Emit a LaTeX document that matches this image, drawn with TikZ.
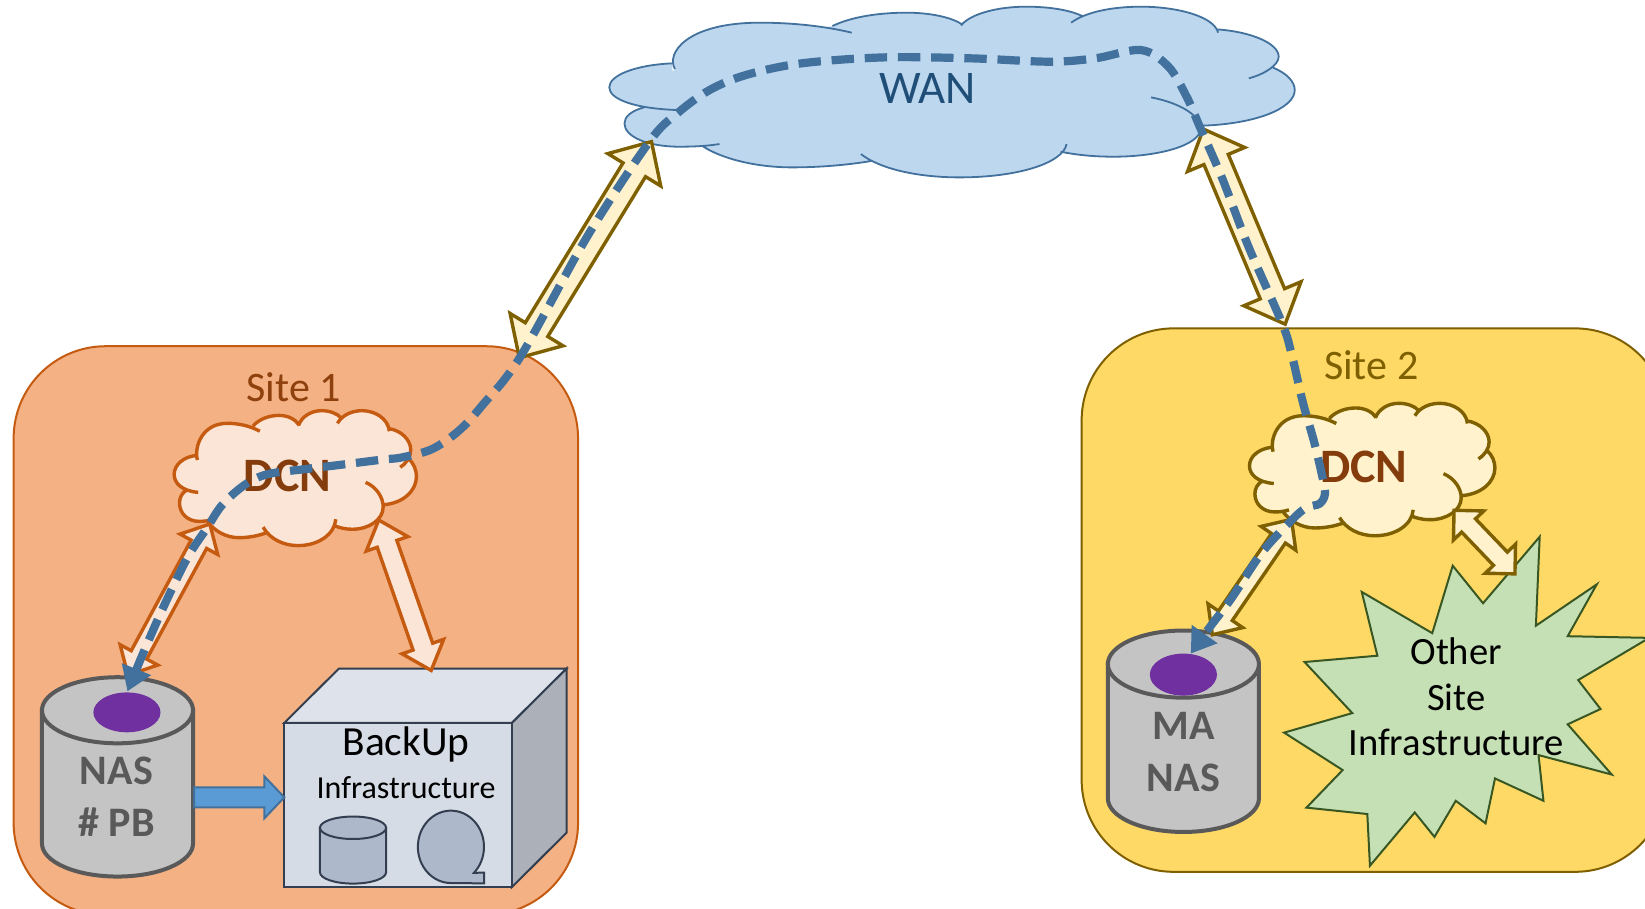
\documentclass[tikz,border=0pt]{standalone}
\usepackage{fontspec}
\setmainfont{Carlito}
\usetikzlibrary{calc,arrows.meta}

\definecolor{orangeline}{HTML}{C55A11}
\definecolor{orangefill}{HTML}{F4B183}
\definecolor{orangepale}{HTML}{FBE5D6}
\definecolor{orangetext}{HTML}{843C0C}
\definecolor{goldline}{HTML}{7F6000}
\definecolor{goldfill}{HTML}{FFD966}
\definecolor{goldpale}{HTML}{FFF2CC}
\definecolor{wanfill}{HTML}{BDD7EE}
\definecolor{wanline}{HTML}{41719C}
\definecolor{wantext}{HTML}{1F4E79}
\definecolor{cangrey}{HTML}{C4C4C4}
\definecolor{candark}{HTML}{595959}
\definecolor{slotviolet}{HTML}{7030A0}
\definecolor{slateline}{HTML}{333F50}
\definecolor{slatefill}{HTML}{ADB9CA}
\definecolor{cubefront}{HTML}{D6DCE5}
\definecolor{cubetopface}{HTML}{DEE2EA}
\definecolor{cubeside}{HTML}{ABB0B9}
\definecolor{burstfill}{HTML}{C5E0B4}
\definecolor{burstline}{HTML}{385723}
\definecolor{backupblue}{HTML}{5B9BD5}

% one lobe per subpath, clockwise, so fill and outline share them
\def\cloudlobes{
	(190,330) .. controls (90,325) and (42,295) .. (42,262) .. controls (42,225) and (100,195) .. (178,190)
	(185,207) .. controls (165,160) and (210,68) .. (370,68) .. controls (440,68) and (510,78) .. (570,98)
	(528,78) .. controls (570,50) and (630,38) .. (690,38) .. controls (740,38) and (790,52) .. (812,75)
	(808,76) .. controls (830,40) and (890,20) .. (950,20) .. controls (1000,20) and (1045,30) .. (1072,48)
	(1048,68) .. controls (1080,35) and (1140,20) .. (1200,20) .. controls (1280,20) and (1360,50) .. (1368,98)
	(1365,88) .. controls (1440,95) and (1500,130) .. (1500,170) .. controls (1500,195) and (1470,222) .. (1435,235)
	(1488,203) .. controls (1518,220) and (1535,245) .. (1535,270) .. controls (1535,325) and (1450,372) .. (1332,377)
	(1222,292) .. controls (1290,310) and (1330,350) .. (1330,385) .. controls (1330,435) and (1240,470) .. (1140,470) .. controls (1100,470) and (1060,465) .. (1025,455)
	(1038,432) .. controls (1030,490) and (930,532) .. (805,532) .. controls (710,532) and (630,505) .. (590,462)
	(612,483) .. controls (560,495) and (500,502) .. (440,502) .. controls (360,502) and (285,475) .. (245,438)
	(282,432) .. controls (255,438) and (225,440) .. (195,440) .. controls (125,440) and (75,410) .. (75,370) .. controls (75,350) and (90,332) .. (118,322)
}

\tikzset{
	pics/cloudshape/.style 2 args={code={
		\fill [#1] \cloudlobes
			(118,322) -- (185,207) -- (528,78) -- (812,75) -- (1072,48) -- (1365,88) -- (1488,203)
			-- (1332,377) -- (1330,400) -- (1140,465) -- (1030,445) -- (612,483) -- (245,438) -- cycle;
		\draw [#2] \cloudlobes;
	}},
	pics/can/.style n args={3}{code={
		\path [pic actions] (-#1,0) -- (-#1,#3) arc [start angle=180,end angle=0,x radius=#1,y radius=#2] -- (#1,0) -- cycle;
		\path [pic actions] (0,0) ellipse [x radius=#1,y radius=#2];
	}},
}

% double headed block arrow: from, to, head length, head half width, shaft half width (pt)
\newcommand{\blockarrow}[6][]{
	\pgfmathsetmacro\headdist{sqrt((#4)^2+(#5)^2)}
	\pgfmathsetmacro\headang{atan((#5)/(#4))}
	\pgfmathsetmacro\neckdist{sqrt((#4)^2+(#6)^2)}
	\pgfmathsetmacro\neckang{atan((#6)/(#4))}
	\draw [#1] (#2) -- ($(#2)!\headdist pt!\headang:(#3)$) -- ($(#2)!\neckdist pt!\neckang:(#3)$)
		-- ($(#3)!\neckdist pt!-\neckang:(#2)$) -- ($(#3)!\headdist pt!-\headang:(#2)$) -- (#3)
		-- ($(#3)!\headdist pt!\headang:(#2)$) -- ($(#3)!\neckdist pt!\neckang:(#2)$)
		-- ($(#2)!\neckdist pt!-\neckang:(#3)$) -- ($(#2)!\headdist pt!-\headang:(#3)$) -- cycle;
}

\begin{document}
\begin{tikzpicture}[x=0.52455pt,y=-0.52455pt,
	orangesite/.style={draw=orangeline,fill=orangefill,line width=1pt,rounded corners=46pt},
	goldsite/.style={draw=goldline,fill=goldfill,line width=1pt,rounded corners=46pt},
	sitelabel/.style={font=\fontsize{21}{25}\selectfont},
	dcnlabel/.style={font=\fontsize{24}{28}\selectfont\bfseries,text=orangetext},
	nasbody/.style={draw=candark,fill=cangrey,line width=2pt},
	naslabel/.style={font=\fontsize{21}{25}\selectfont\bfseries,text=candark},
	slot/.style={fill=slotviolet},
	orangepipe/.style={draw=orangeline,fill=orangepale,line width=1.7pt},
	goldpipe/.style={draw=goldline,fill=goldpale,line width=1.7pt},
	cubeface/.style={draw=slateline,line width=1pt,line join=miter},
	minican/.style={draw=slateline,fill=slatefill,line width=1pt},
	boxlabel/.style={font=\fontsize{16}{19}\selectfont},
	burstlabel/.style={font=\fontsize{19.3}{24}\selectfont},
	datapath/.style={{Triangle[length=12pt,width=15pt]}-{Triangle[length=12pt,width=15pt]},draw=wanline,line width=4.1pt,dash pattern=on 11.2pt off 5.4pt}
	]
\clip (0,0) rectangle (1568,865.6);

\draw [orangesite] (13,330) rectangle (551,872);
\draw [goldsite] (1031,313) rectangle (1589,831);

\pic [xscale=.4376,yscale=.3178] at (562.4,0) {cloudshape={fill=wanfill}{draw=wanline,line width=.9pt}};
\pic [xscale=.1547,yscale=.2512] at (159.5,386.4) {cloudshape={fill=orangepale}{draw=orangeline,line width=1.7pt}};
\pic [xscale=.1567,yscale=.2465] at (1184.4,379.5) {cloudshape={fill=goldpale}{draw=goldline,line width=1.7pt}};

\node [text=wantext,font=\fontsize{23.4}{27}\selectfont] (wan) at (884,84) {WAN};
\node [sitelabel,text=orangetext!85!orangeline] (site1) at (280,369) {Site 1};
\node [sitelabel,text=goldline] (site2) at (1307,348) {Site 2};
\node [dcnlabel] (dcn1) at (274,454) {DCN};
\node [dcnlabel] (dcn2) at (1300,445) {DCN};

% storage on both sites
\pic [nasbody] at (112,677) {can={72}{31.5}{127}};
\pic [nasbody] at (1128,633) {can={72}{32}{128}};
\fill [slot] (121,679) ellipse [x radius=32,y radius=19];
\fill [slot] (1128,643) ellipse [x radius=32,y radius=20];
\node [naslabel] (nas1a) at (111,735) {NAS};
\node [naslabel] (nas1b) at (111,784) {\# PB};
\node [naslabel] (nas2a) at (1128,692) {MA};
\node [naslabel] (nas2b) at (1128,741) {NAS};

% backup box
\draw [cubeface,fill=cubetopface] (271,689) -- (323,637.3) -- (540,637.3) -- (488,689) -- cycle;
\draw [cubeface,fill=cubeside] (488,689) -- (540,637.3) -- (540,793.7) -- (488,845.5) -- cycle;
\draw [cubeface,fill=cubefront] (271,689) rectangle (488,845.5);
\node [font=\fontsize{20.7}{25}\selectfont] (backup) at (387,709.5) {BackUp};
\node [boxlabel] (infra1) at (387,751) {Infrastructure};
\pic [minican] at (336.5,789) {can={31.5}{10.7}{42.5}};
\draw [minican] (451.7,832) arc [start angle=46,end angle=-270,x radius=31.5,y radius=34.5] -- (461.5,842) -- (461.5,831.7) -- cycle;

% other infrastructure
\draw [draw=burstline,fill=burstfill,line width=1pt,line join=miter]
	(1467.6,511.6) -- (1464,596.4) -- (1522,557) -- (1494.3,606.4) -- (1572,608) -- (1504.3,648.2) -- (1525.6,675.8)
	-- (1494.3,690.4) -- (1536.3,738.3) -- (1466.5,719.7) -- (1471.2,763.3) -- (1425,742) -- (1416,784.8) -- (1387.6,763.3)
	-- (1367.3,797.7) -- (1348.5,774.4) -- (1305.8,825.2) -- (1303.3,775.9) -- (1245.3,769.8) -- (1279.8,734) -- (1224,698.3)
	-- (1289,679.7) -- (1243.5,631) -- (1312.9,625) -- (1298,564.2) -- (1365.2,603.5) -- (1384.7,539.2) -- (1413.6,575) -- cycle;
\node [burstlabel] (other) at (1388,621) {Other};
\node [burstlabel] (site) at (1388,665) {Site};
\node [burstlabel] (infra2) at (1388,708) {Infrastructure};

\coordinate (wanL) at (621,135);
\coordinate (wanR) at (1147,123);
\coordinate (site1top) at (495,341);
\coordinate (site2top) at (1225,309);
\coordinate (dcn1L) at (200,499.5);
\coordinate (dcn1R) at (361,495.7);
\coordinate (dcn2L) at (1231,495);
\coordinate (dcn2R) at (1386,486.4);
\coordinate (nas1top) at (122,643.5);
\coordinate (cubetop) at (411,639);
\coordinate (nas2top) at (1155.6,605);
\coordinate (bursttop) at (1444,547);
\coordinate (nas1side) at (185,760);
\coordinate (cubeside) at (271,760);
\coordinate (slot1) at (121.5,659);
\coordinate (slot2) at (1135,623);

\blockarrow[goldpipe]{wanL}{site1top}{16.5}{15.5}{6.6}
\blockarrow[goldpipe]{wanR}{site2top}{16.5}{15.5}{6.6}
\blockarrow[orangepipe]{dcn1L}{nas1top}{11.5}{10.7}{4.4}
\blockarrow[orangepipe]{dcn1R}{cubetop}{12.6}{11}{5.2}
\blockarrow[goldpipe]{dcn2L}{nas2top}{11.5}{10.5}{4.2}
\blockarrow[goldpipe]{dcn2R}{bursttop}{10.5}{10.5}{4.8}

% nas to backup
\draw [draw=wanline,fill=backupblue,line width=1pt,line join=miter] ($(nas1side)+(0,-9.5)$) -- (252,750.5) -- (252,740) -- (cubeside) -- (252,780) -- (252,769.5) -- ($(nas1side)+(0,9.5)$) -- cycle;

% replication path between the two nas
\draw [datapath] plot [smooth,tension=.55] coordinates {
	(slot1) (138.6,617.6) (157,576) (179,531) (197,503.6) (212,481) (233.5,462) (255,452) (292,447) (325,443) (365,438) (383,436)
	(412,428) (438,410) (460,386) (496,340) (560,225) (619,135) (645.6,108) (676,86) (711,71.5) (763.7,60.4) (842.5,54.7)
	(925.6,55.6) (1000,58.8) (1043.8,55.6) (1087.6,47.7) (1113.8,63.6) (1131,92) (1143.6,120.8) (1165,170) (1190,235) (1222,308)
	(1231,337) (1242,384) (1252,419) (1259,448) (1263,469.5) (1258,480) (1245,484) (1231,496) (1202.6,527) (1174,570) (1153,598) (slot2)
};
\end{tikzpicture}
\end{document}
